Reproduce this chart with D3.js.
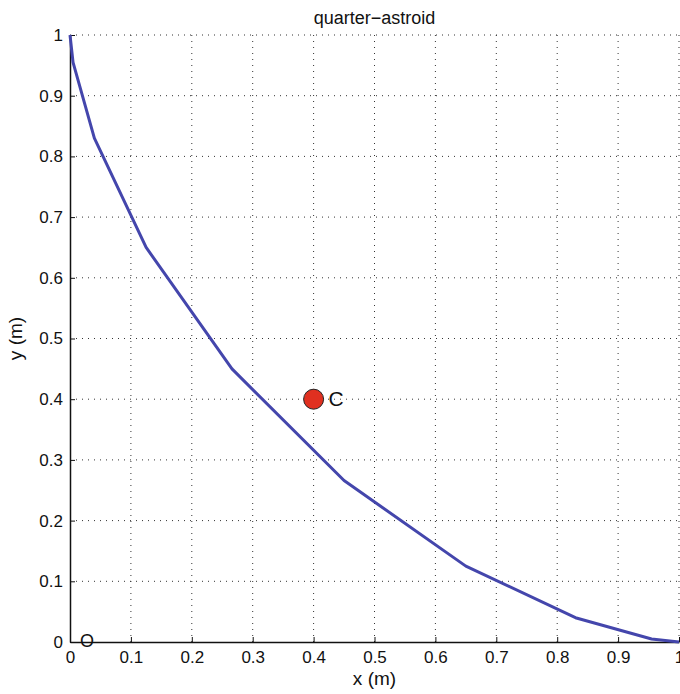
<html>
<head>
<script src="https://d3js.org/d3.v7.min.js"></script>
<style>
  body { margin: 0; background: #fff; }
  text { font-family: "Liberation Sans", Arial, sans-serif; fill: #111; }
</style>
</head>
<body>
<svg id="chart" width="680" height="694"></svg>
<script>
  var curveX = [0, 0.005, 0.040, 0.125, 0.266, 0.450, 0.650, 0.830, 0.955, 1];
  var curveY = [1, 0.955, 0.830, 0.650, 0.450, 0.266, 0.125, 0.040, 0.005, 0];
  var pointC = {x: 0.4, y: 0.4, label: "C"};
  var pointO = {x: 0, y: 0, label: "O"};
  var ticks = [0, 0.1, 0.2, 0.3, 0.4, 0.5, 0.6, 0.7, 0.8, 0.9, 1];

  var margin = {top: 35, right: 1, bottom: 52, left: 70},
      width = 680 - margin.left - margin.right,
      height = 694 - margin.top - margin.bottom;

  var svg = d3.select("#chart").append("g")
    .attr("transform", "translate(" + margin.left + "," + margin.top + ")");

  var x = d3.scaleLinear().domain([0, 1]).range([0, width]);
  var y = d3.scaleLinear().domain([0, 1]).range([height, 0]);

  // dotted grid
  svg.append("g").selectAll("line.gx")
    .data(ticks.slice(1))
    .enter().append("line")
      .attr("x1", function(d) { return x(d); })
      .attr("x2", function(d) { return x(d); })
      .attr("y1", y(0)).attr("y2", y(1))
      .attr("stroke", "#333").attr("stroke-width", 1)
      .attr("stroke-dasharray", "1,5");
  svg.append("g").selectAll("line.gy")
    .data(ticks.slice(1))
    .enter().append("line")
      .attr("y1", function(d) { return y(d); })
      .attr("y2", function(d) { return y(d); })
      .attr("x1", x(0)).attr("x2", x(1))
      .attr("stroke", "#333").attr("stroke-width", 1)
      .attr("stroke-dasharray", "1,5");

  var fmt = function(d) { return d3.format("")(+d.toFixed(1)); };

  var xAxis = svg.append("g")
    .attr("transform", "translate(0," + height + ")")
    .call(d3.axisBottom(x).tickValues(ticks).tickFormat(fmt).tickSizeInner(-5).tickSizeOuter(0).tickPadding(9));
  var yAxis = svg.append("g")
    .call(d3.axisLeft(y).tickValues(ticks).tickFormat(fmt).tickSizeInner(-5).tickSizeOuter(0).tickPadding(7));

  [xAxis, yAxis].forEach(function(a) {
    a.select(".domain").attr("stroke", "#111").attr("stroke-width", 1.5);
    a.selectAll(".tick line").attr("stroke", "#111");
    a.selectAll(".tick text").style("font-size", "17px").attr("fill", "#111")
      .style("font-family", "Liberation Sans, Arial, sans-serif");
  });

  // curve
  var pts = curveX.map(function(v, i) { return [v, curveY[i]]; });
  svg.append("path")
    .datum(pts)
    .attr("fill", "none")
    .attr("stroke", "#4446ac")
    .attr("stroke-width", 3)
    .attr("stroke-linejoin", "round")
    .attr("d", d3.line()
      .x(function(d) { return x(d[0]); })
      .y(function(d) { return y(d[1]); }));

  // point C
  svg.append("circle")
    .attr("cx", x(pointC.x)).attr("cy", y(pointC.y))
    .attr("r", 10)
    .attr("fill", "#e03020")
    .attr("stroke", "#222").attr("stroke-width", 1);
  svg.append("text")
    .attr("x", x(pointC.x) + 15).attr("y", y(pointC.y) + 7)
    .style("font-size", "21px")
    .text(pointC.label);

  svg.append("text")
    .attr("x", x(pointO.x) + 10).attr("y", y(pointO.y) + 5)
    .style("font-size", "18px")
    .text(pointO.label);

  // title and axis labels
  svg.append("text")
    .attr("x", width / 2).attr("y", -11)
    .attr("text-anchor", "middle")
    .style("font-size", "18px")
    .text("quarter\u2212astroid");
  svg.append("text")
    .attr("x", width / 2).attr("y", height + 43)
    .attr("text-anchor", "middle")
    .style("font-size", "19px")
    .text("x (m)");
  svg.append("text")
    .attr("transform", "translate(-48," + (height / 2) + ") rotate(-90)")
    .attr("text-anchor", "middle")
    .style("font-size", "19px")
    .text("y (m)");
</script>
</body>
</html>
